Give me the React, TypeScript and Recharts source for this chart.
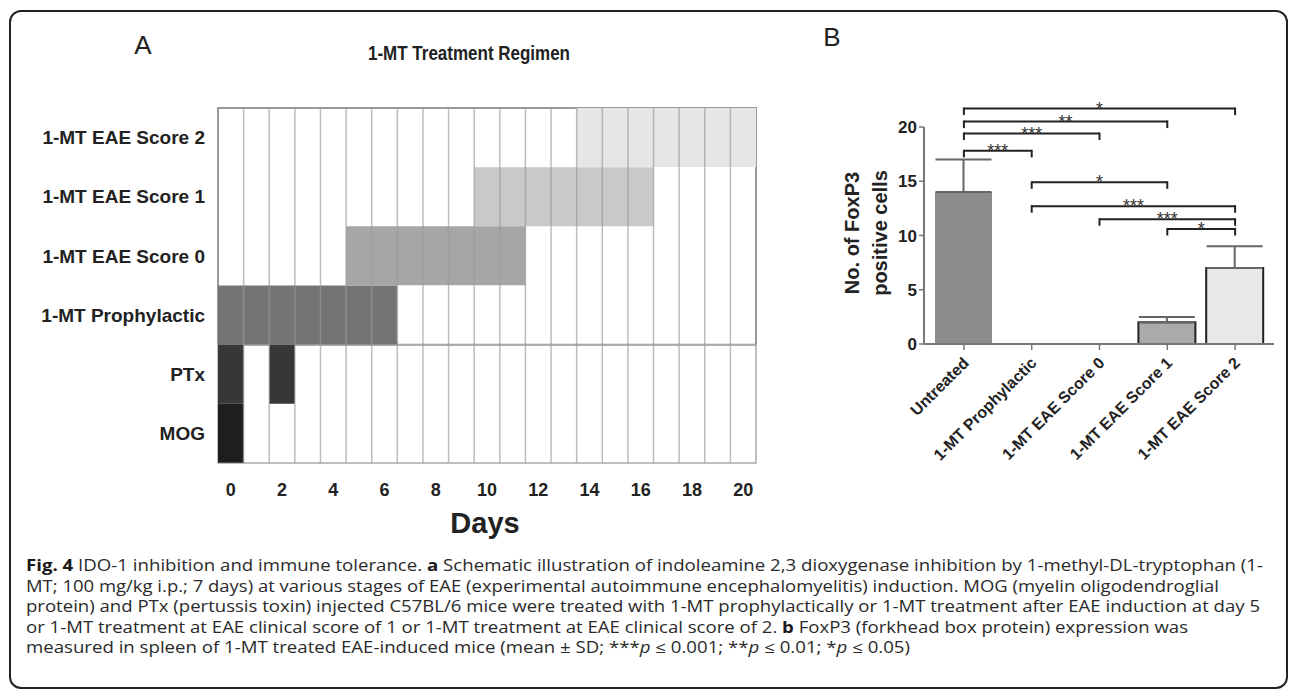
import React from 'react';
import { BarChart, Bar, XAxis, YAxis, Cell, ReferenceLine, ReferenceArea, ErrorBar } from 'recharts';

// Panel A - treatment regimen (one row per group, days 0-20)
const regimenRows = ['1-MT EAE Score 2', '1-MT EAE Score 1', '1-MT EAE Score 0', '1-MT Prophylactic', 'PTx', 'MOG'];
const regimenStart = [14, 10, 5, 0, 0, 0];
const regimenDays = [7, 7, 7, 7, 1, 1];
const secondDoseGap = [0, 0, 0, 0, 1, 0];
const secondDoseDays = [0, 0, 0, 0, 1, 0];
const regimenColors = ['#e5e6e5', '#c8c9c8', '#a5a6a5', '#747473', '#373735', '#1e1e1e'];
const totalDays = 21;
const dayLabels = [0, 2, 4, 6, 8, 10, 12, 14, 16, 18, 20];

// Panel B - FoxP3 positive cells
const groups = ['Untreated', '1-MT Prophylactic', '1-MT EAE Score 0', '1-MT EAE Score 1', '1-MT EAE Score 2'];
const foxp3Mean = [14, 0, 0, 2, 7];
const foxp3Sd = [3, 0, 0, 0.5, 2];
const groupFill = ['#8c8c8c', '#8c8c8c', '#8c8c8c', '#a9aaa9', '#e8e8e8'];
const groupStroke = ['none', 'none', 'none', '#222', '#222'];
const yTicksB = [0, 5, 10, 15, 20];

// significance brackets: group index from/to, height in data units
const brackets = [
  { from: 0, to: 4, y: 21.7, label: '*' },
  { from: 0, to: 3, y: 20.5, label: '**' },
  { from: 0, to: 2, y: 19.4, label: '***' },
  { from: 0, to: 1, y: 17.8, label: '***' },
  { from: 1, to: 3, y: 14.9, label: '*' },
  { from: 1, to: 4, y: 12.7, label: '***' },
  { from: 2, to: 4, y: 11.5, label: '***' },
  { from: 3, to: 4, y: 10.6, label: '*' },
];
const legLength = 0.6;

const captionLines: { parts: { t: string; b?: boolean; i?: boolean }[]; len: number }[] = [
  {
    parts: [
      { t: 'Fig. 4', b: true },
      { t: ' IDO-1 inhibition and immune tolerance. ' },
      { t: 'a', b: true },
      { t: ' Schematic illustration of indoleamine 2,3 dioxygenase inhibition by 1-methyl-DL-tryptophan (1-' },
    ],
    len: 1237,
  },
  {
    parts: [{ t: 'MT; 100 mg/kg i.p.; 7 days) at various stages of EAE (experimental autoimmune encephalomyelitis) induction. MOG (myelin oligodendroglial' }],
    len: 1193,
  },
  {
    parts: [{ t: 'protein) and PTx (pertussis toxin) injected C57BL/6 mice were treated with 1-MT prophylactically or 1-MT treatment after EAE induction at day 5' }],
    len: 1234,
  },
  {
    parts: [
      { t: 'or 1-MT treatment at EAE clinical score of 1 or 1-MT treatment at EAE clinical score of 2. ' },
      { t: 'b', b: true },
      { t: ' FoxP3 (forkhead box protein) expression was' },
    ],
    len: 1162,
  },
  {
    parts: [
      { t: 'measured in spleen of 1-MT treated EAE-induced mice (mean \u00b1 SD; ***' },
      { t: 'p', i: true },
      { t: ' \u2264 0.001; **' },
      { t: 'p', i: true },
      { t: ' \u2264 0.01; *' },
      { t: 'p', i: true },
      { t: ' \u2264 0.05)' },
    ],
    len: 884,
  },
];

const sans = '"Liberation Sans", Arial, Helvetica, sans-serif';

const regimenData = regimenRows.map((name, i) => ({
  name,
  pre: regimenStart[i],
  on: regimenDays[i],
  gap: secondDoseGap[i],
  on2: secondDoseDays[i],
}));

const foxData = groups.map((name, i) => ({
  name,
  mean: foxp3Mean[i],
  err: foxp3Sd[i] > 0 ? [0, foxp3Sd[i]] : undefined,
}));

const RegimenChart = () => {
  const inner = Array.from({ length: totalDays - 1 }, (_, i) => i + 1);
  return (
    <BarChart
      width={780}
      height={560}
      data={regimenData}
      layout="vertical"
      barCategoryGap={0}
      barGap={0}
      margin={{ top: 108, right: 24, left: 0, bottom: 67 }}
    >
      <XAxis
        type="number"
        domain={[0, totalDays]}
        allowDataOverflow
        ticks={dayLabels.map((d) => d + 0.5)}
        tickFormatter={(v: number) => String(v - 0.5)}
        interval={0}
        height={30}
        axisLine={false}
        tickLine={false}
        tickSize={0}
        tickMargin={20}
        tick={{ fontSize: 18, fontWeight: 700, fill: '#222', fontFamily: sans }}
      />
      <YAxis
        type="category"
        dataKey="name"
        width={218}
        axisLine={false}
        tickLine={false}
        tickSize={0}
        tickMargin={13}
        tick={{ fontSize: 19, fontWeight: 700, fill: '#222', fontFamily: sans }}
      />
      <Bar dataKey="pre" stackId="s" fill="transparent" isAnimationActive={false} />
      <Bar dataKey="on" stackId="s" isAnimationActive={false}>
        {regimenData.map((d, i) => (
          <Cell key={d.name} fill={regimenColors[i]} />
        ))}
      </Bar>
      <Bar dataKey="gap" stackId="s" fill="transparent" isAnimationActive={false} />
      <Bar dataKey="on2" stackId="s" isAnimationActive={false}>
        {regimenData.map((d, i) => (
          <Cell key={d.name} fill={regimenColors[i]} />
        ))}
      </Bar>
      {inner.map((d) => (
        <ReferenceLine key={d} x={d} stroke="#999" strokeOpacity={0.65} strokeWidth={1.5} />
      ))}
      <ReferenceArea y1={regimenRows[0]} y2={regimenRows[3]} fill="none" fillOpacity={0} stroke="#9a9a9a" strokeWidth={2} />
      <ReferenceArea y1={regimenRows[4]} y2={regimenRows[5]} fill="none" fillOpacity={0} stroke="#aaa" strokeWidth={1.5} />
    </BarChart>
  );
};

const GroupTick = ({ x, y, payload }: any) => {
  const ax = x + 2;
  const ay = y + 8;
  return (
    <text
      x={ax}
      y={ay}
      dy="0.35em"
      transform={`rotate(-45 ${ax} ${ay})`}
      textAnchor="end"
      fontSize={16}
      fontWeight={700}
      fill="#222"
      fontFamily={sans}
    >
      {payload.value}
    </text>
  );
};

const StarLabel = ({ viewBox, text }: any) => {
  if (!viewBox) return null;
  const cx = viewBox.x + (viewBox.width || 0) / 2;
  return (
    <text x={cx} y={viewBox.y + 6} textAnchor="middle" fontSize={18} fill="#333" fontFamily={sans}>
      {text}
    </text>
  );
};

const FoxP3Chart = () => (
  <BarChart width={510} height={480} data={foxData} barSize={57} margin={{ top: 127, right: 16, left: 84, bottom: 16 }}>
    <XAxis
      dataKey="name"
      interval={0}
      height={120}
      padding={{ left: 6, right: 5 }}
      stroke="#777"
      axisLine={{ stroke: '#777', strokeWidth: 2 }}
      tickLine={{ stroke: '#777', strokeWidth: 1.5 }}
      tickSize={6}
      tickMargin={2}
      tick={<GroupTick />}
    />
    <YAxis
      domain={[0, 20]}
      ticks={yTicksB}
      width={60}
      axisLine={{ stroke: '#777', strokeWidth: 2 }}
      tickLine={{ stroke: '#777', strokeWidth: 1.5 }}
      tickSize={5}
      tickMargin={2}
      tick={{ fontSize: 17, fontWeight: 700, fill: '#222', fontFamily: sans }}
    />
    <Bar dataKey="mean" isAnimationActive={false}>
      {foxData.map((d, i) => (
        <Cell key={d.name} fill={groupFill[i]} stroke={groupStroke[i]} strokeWidth={2} />
      ))}
      <ErrorBar dataKey="err" width={28} strokeWidth={2} stroke="#666" direction="y" isAnimationActive={false} />
    </Bar>
    {brackets.map((b, k) => (
      <ReferenceLine
        key={`h${k}`}
        segment={[
          { x: groups[b.from], y: b.y },
          { x: groups[b.to], y: b.y },
        ]}
        stroke="#222"
        strokeWidth={2}
        ifOverflow="visible"
        label={<StarLabel text={b.label} />}
      />
    ))}
    {brackets.map((b, k) =>
      [b.from, b.to].map((g) => (
        <ReferenceLine
          key={`v${k}-${g}`}
          segment={[
            { x: groups[g], y: b.y + 0.1 },
            { x: groups[g], y: b.y - legLength },
          ]}
          stroke="#222"
          strokeWidth={2}
          ifOverflow="visible"
        />
      ))
    )}
  </BarChart>
);

export default function App() {
  return (
    <div
      style={{
        position: 'absolute',
        left: 0,
        top: 0,
        width: 1290,
        height: 689,
        background: '#fff',
        overflow: 'hidden',
        fontFamily: sans,
      }}
    >
      <div
        style={{
          position: 'absolute',
          left: 9,
          top: 10,
          width: 1279,
          height: 679,
          border: '2px solid #222',
          borderRadius: 12,
          boxSizing: 'border-box',
        }}
      />
      <div style={{ position: 'absolute', left: 0, top: 0 }}>
        <RegimenChart />
      </div>
      <div style={{ position: 'absolute', left: 780, top: 0 }}>
        <FoxP3Chart />
      </div>
      <svg style={{ position: 'absolute', left: 0, top: 0, pointerEvents: 'none' }} width={1290} height={689}>
        <text x={143} y={54} textAnchor="middle" fontSize={26} fill="#222" fontFamily={sans}>
          A
        </text>
        <text x={832} y={46} textAnchor="middle" fontSize={26} fill="#222" fontFamily={sans}>
          B
        </text>
        <text
          x={368}
          y={60}
          fontSize={20}
          fontWeight={700}
          fill="#222"
          fontFamily={'"Liberation Sans Narrow", "Arial Narrow", ' + sans}
          textLength={202}
          lengthAdjust="spacingAndGlyphs"
        >
          1-MT Treatment Regimen
        </text>
        <text x={485} y={533} textAnchor="middle" fontSize={29} fontWeight={700} fill="#222" fontFamily={sans}>
          Days
        </text>
        <g transform="rotate(-90 866 233)">
          <text x={866} y={226} textAnchor="middle" fontSize={20} fontWeight={700} fill="#222" fontFamily={sans}>
            No. of FoxP3
          </text>
          <text x={866} y={254} textAnchor="middle" fontSize={20} fontWeight={700} fill="#222" fontFamily={sans}>
            positive cells
          </text>
        </g>
        {captionLines.map((line, i) => (
          <text
            key={i}
            x={26}
            y={571 + i * 20.5}
            fontSize={15.5}
            fill="#2a2a2a"
            fontFamily='"Open Sans", "Noto Sans", sans-serif'
            textLength={line.len}
            lengthAdjust="spacingAndGlyphs"
          >
            {line.parts.map((p, j) => (
              <tspan key={j} fontWeight={p.b ? 700 : 400} fontStyle={p.i ? 'italic' : 'normal'} fill={p.b ? '#1a1a1a' : undefined}>
                {p.t}
              </tspan>
            ))}
          </text>
        ))}
      </svg>
    </div>
  );
}
